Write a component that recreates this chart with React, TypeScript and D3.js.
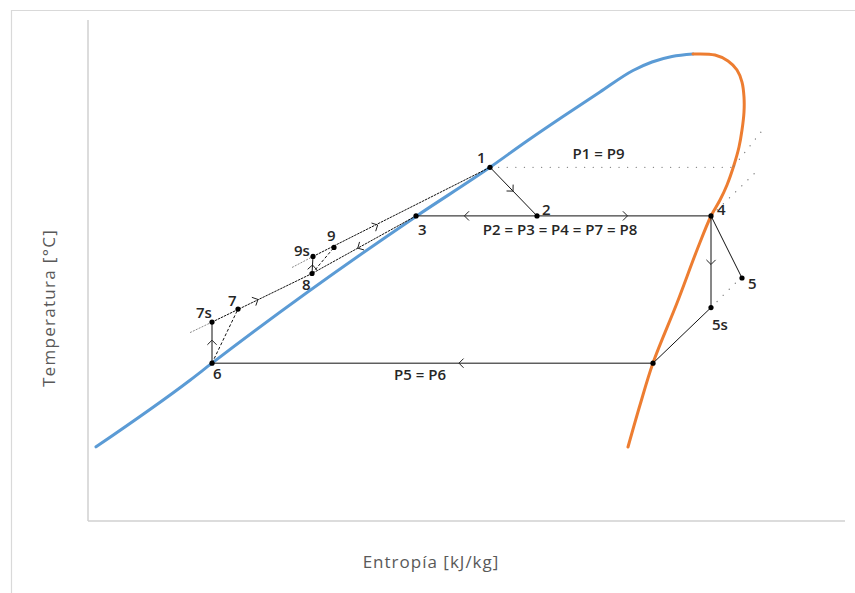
import React from "react";
import * as d3 from "d3";

// Saturation dome (entropy in arbitrary units, temperature in arbitrary units)
const liquidS = [0.08, 1.02, 1.24, 3.28, 4.02, 4.39, 4.75, 5.12, 5.45, 5.64, 5.84, 6.05];
const liquidT = [14.8, 28.1, 31.5, 60.8, 70.6, 75.85, 80.74, 85.63, 89.92, 91.62, 92.71, 93.21];
const vaporS = [6.05, 6.27, 6.4, 6.49, 6.54, 6.56, 6.56, 6.54, 6.51, 6.46, 6.39, 6.32, 6.23, 6.09, 5.89, 5.65, 5.52, 5.4];
const vaporT = [93.21, 93.01, 91.82, 90.02, 87.62, 84.63, 81.64, 78.04, 74.65, 71.06, 67.07, 64.07, 60.88, 54.09, 43.51, 31.54, 23.15, 14.77];

// Cycle state points
const stateIds = ["1", "2", "3", "4", "5", "5s", "6x", "6", "7s", "7", "8", "9s", "9"];
const stateS = [4.02, 4.49, 3.28, 6.23, 6.54, 6.23, 5.65, 1.24, 1.24, 1.5, 2.24, 2.25, 2.46];
const stateT = [70.6, 60.9, 60.9, 60.9, 48.5, 42.6, 31.5, 31.5, 39.7, 42.3, 49.4, 52.8, 54.6];
const stateLabels = ["1", "2", "3", "4", "5", "5s", "", "6", "7s", "7", "8", "9s", "9"];

// Process segments
const segFrom = ["1", "3", "4", "4", "5s", "6x", "6", "6", "7s", "3", "8", "8", "9s"];
const segTo = ["2", "4", "5s", "5", "6x", "6", "7s", "7", "8", "8", "9s", "9", "1"];
const segKind = ["solid", "solid", "solid", "solid", "solid", "solid", "solid", "dash", "fine", "fine", "solid", "dash", "fine"];

// Flow arrows
const arrowFrom = ["1", "2", "2", "4", "6x", "6", "7", "3", "8", "9"];
const arrowTo = ["2", "3", "4", "5s", "6", "7s", "8", "8", "9s", "1"];
const arrowAt = [0.49, 0.6, 0.52, 0.53, 0.44, 0.56, 0.27, 0.56, 0.5, 0.28];

// Isobar extensions (dotted)
const isobarStartS = [4.02, 6.46, 6.23, 6.23];
const isobarStartT = [70.6, 70.86, 60.9, 42.6];
const isobarEndS = [6.46, 6.73, 6.71, 6.56];
const isobarEndT = [70.6, 77.64, 70.26, 49.2];

// Grey dashed lead-ins of the compression lines
const leadStartS = [1.02, 2.04];
const leadStartT = [37.6, 50.6];
const leadEndS = [1.24, 2.25];
const leadEndT = [39.7, 52.8];

// Pressure annotations
const pressureText = ["P1 = P9", "P2 = P3 = P4 = P7 = P8", "P5 = P6"];
const pressureS = [5.105, 4.72, 3.32];
const pressureT = [72.2, 57.0, 28.14];

const xTitle = "Entropía [kJ/kg]";
const yTitle = "Temperatura [°C]";

const labelOffset: Record<string, [number, number]> = {
  "1": [-13, -4],
  "2": [5, -1],
  "3": [2, 19],
  "4": [6, -1],
  "5": [6, 11],
  "5s": [1, 22],
  "6": [1, 16],
  "7s": [-16, -4],
  "7": [-10, -3],
  "8": [-10, 16],
  "9s": [-19, 0],
  "9": [-7, -6],
};

export default function App() {
  const W = 855;
  const H = 593;
  const x = d3.scaleLinear().domain([0, 7.57]).range([88, 845]);
  const y = d3.scaleLinear().domain([0, 100]).range([521, 20]);

  const pos: Record<string, [number, number]> = {};
  stateIds.forEach((id, i) => {
    pos[id] = [x(stateS[i]), y(stateT[i])];
  });

  const liquidLine = d3
    .line<[number, number]>()
    .x((d) => x(d[0]))
    .y((d) => y(d[1]))
    .curve(d3.curveMonotoneX);
  const vaporLine = d3
    .line<[number, number]>()
    .x((d) => x(d[0]))
    .y((d) => y(d[1]))
    .curve(d3.curveCatmullRom.alpha(0.5));

  const liquid = liquidLine(liquidS.map((s, i) => [s, liquidT[i]]) as [number, number][]) || "";
  const vapor = vaporLine(vaporS.map((s, i) => [s, vaporT[i]]) as [number, number][]) || "";

  const font = "'Open Sans', 'DejaVu Sans', sans-serif";

  const chevron = (a: [number, number], b: [number, number], t: number, key: string) => {
    const px = a[0] + (b[0] - a[0]) * t;
    const py = a[1] + (b[1] - a[1]) * t;
    const ang = Math.atan2(b[1] - a[1], b[0] - a[0]);
    const L = 6.5;
    const back = ang + Math.PI;
    const a1 = back + Math.PI / 4;
    const a2 = back - Math.PI / 4;
    const d = `M${px + L * Math.cos(a1)},${py + L * Math.sin(a1)}L${px},${py}L${px + L * Math.cos(a2)},${py + L * Math.sin(a2)}`;
    return <path key={key} d={d} fill="none" stroke="#222" strokeWidth={1} />;
  };

  return (
    <svg
      width={W}
      height={H}
      style={{ position: "absolute", left: 0, top: 0, background: "#fff" }}
    >
      <rect x={0} y={0} width={W} height={H} fill="#fff" />
      {/* outer frame */}
      <path d={`M11.5,${H}V10.5H${W}`} fill="none" stroke="#d9d9d9" strokeWidth={1.2} />
      {/* axes */}
      <line x1={x(0)} x2={x(0)} y1={y(0)} y2={y(100)} stroke="#d0d0d0" strokeWidth={1.5} />
      <line x1={x(0)} x2={x(7.57)} y1={y(0)} y2={y(0)} stroke="#d0d0d0" strokeWidth={1.5} />

      {/* dome */}
      <path d={liquid} fill="none" stroke="#5b9bd5" strokeWidth={3} strokeLinecap="round" />
      <path d={vapor} fill="none" stroke="#ed7d31" strokeWidth={3} strokeLinecap="round" />

      {/* isobar dotted lines */}
      {isobarStartS.map((s, i) => (
        <line
          key={"iso" + i}
          x1={x(s)}
          y1={y(isobarStartT[i])}
          x2={x(isobarEndS[i])}
          y2={y(isobarEndT[i])}
          stroke="#7f7f7f"
          strokeWidth={1.3}
          strokeDasharray="0.1 8.5"
          strokeLinecap="round"
        />
      ))}

      {/* lead-ins */}
      {leadStartS.map((s, i) => (
        <line
          key={"lead" + i}
          x1={x(s)}
          y1={y(leadStartT[i])}
          x2={x(leadEndS[i])}
          y2={y(leadEndT[i])}
          stroke="#8c8c8c"
          strokeWidth={1}
          strokeDasharray="2 1.2"
        />
      ))}

      {/* process segments */}
      {segFrom.map((f, i) => {
        const a = pos[f];
        const b = pos[segTo[i]];
        const k = segKind[i];
        return (
          <line
            key={"seg" + i}
            x1={a[0]}
            y1={a[1]}
            x2={b[0]}
            y2={b[1]}
            stroke="#111"
            strokeWidth={1}
            strokeDasharray={k === "dash" ? "3 2" : k === "fine" ? "2.5 0.8" : undefined}
          />
        );
      })}

      {/* arrows */}
      {arrowFrom.map((f, i) => chevron(pos[f], pos[arrowTo[i]], arrowAt[i], "ar" + i))}

      {/* points */}
      {stateIds.map((id) => (
        <circle key={"pt" + id} cx={pos[id][0]} cy={pos[id][1]} r={2.6} fill="#000" />
      ))}

      {/* point labels */}
      {stateIds.map((id, i) => {
        const lab = stateLabels[i];
        if (!lab) return null;
        const off = labelOffset[lab] || [0, 0];
        return (
          <text
            key={"lb" + id}
            x={pos[id][0] + off[0]}
            y={pos[id][1] + off[1]}
            fontFamily={font}
            fontWeight={600}
            fontSize={15}
            fill="#262626"
          >
            {lab}
          </text>
        );
      })}

      {/* pressure annotations */}
      {pressureText.map((t, i) => (
        <text
          key={"pr" + i}
          x={x(pressureS[i])}
          y={y(pressureT[i])}
          fontFamily={font}
          fontWeight={600}
          fontSize={15}
          fill="#262626"
          textAnchor="middle"
        >
          {t}
        </text>
      ))}

      {/* axis titles */}
      <text
        x={431}
        y={568}
        textAnchor="middle"
        fontFamily={font}
        fontSize={17}
        letterSpacing={1}
        fill="#595959"
      >
        {xTitle}
      </text>
      <text
        transform={`translate(55,308) rotate(-90)`}
        textAnchor="middle"
        fontFamily={font}
        fontSize={17}
        letterSpacing={1.3}
        fill="#595959"
      >
        {yTitle}
      </text>
    </svg>
  );
}
